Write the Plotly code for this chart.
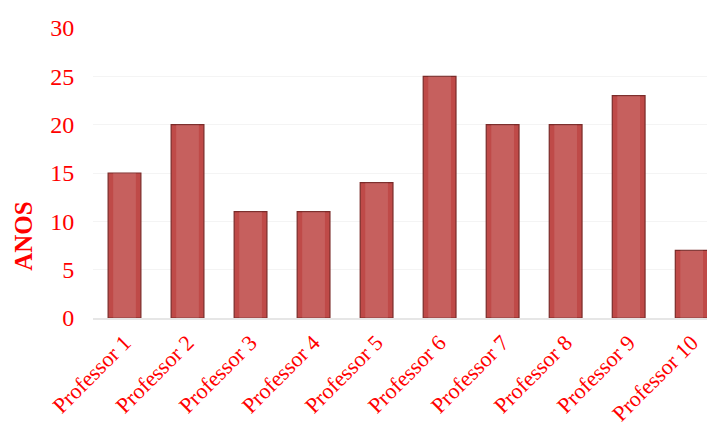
import plotly.graph_objects as go

categories = ["Professor 1", "Professor 2", "Professor 3", "Professor 4", "Professor 5",
              "Professor 6", "Professor 7", "Professor 8", "Professor 9", "Professor 10"]
anos = [15, 20, 11, 11, 14, 25, 20, 20, 23, 7]
y_ticks = [0, 5, 10, 15, 20, 25, 30]

fig = go.Figure()
fig.add_trace(go.Bar(
    x=categories, y=anos,
    marker=dict(color="#BF4A48", line=dict(color="#7A2B29", width=1.2)),
    width=0.52,
))
fig.add_trace(go.Bar(
    x=categories, y=anos,
    marker=dict(color="rgba(255,255,255,0.12)", line=dict(width=0)),
    width=0.36,
    hoverinfo="skip",
))

red = "#FF0000"
serif = "Liberation Serif, Times New Roman, serif"
fig.update_layout(
    width=707, height=420,
    margin=dict(l=85, r=0, t=20, b=110),
    paper_bgcolor="white", plot_bgcolor="white",
    showlegend=False, barmode="overlay",
    font=dict(family=serif, color=red),
    xaxis=dict(
        range=[-0.5, 9.37], tickangle=-45, automargin=False,
        tickfont=dict(size=22, color=red, family=serif),
        showgrid=False, showline=True, linecolor="#E6E6E6", linewidth=2,
        ticks="outside", ticklen=1, tickcolor="rgba(0,0,0,0)", zeroline=False,
    ),
    yaxis=dict(
        range=[0, 30], tickvals=y_ticks, automargin=False,
        tickfont=dict(size=24, color=red, family=serif),
        showgrid=True, gridcolor="#F4F4F4", gridwidth=1,
        zeroline=False, showline=False,
        ticks="outside", ticklen=13, tickcolor="rgba(0,0,0,0)",
    ),
    annotations=[dict(
        text="<b>ANOS</b>", textangle=-90, showarrow=False,
        xref="paper", yref="paper", x=0, y=0.28, xanchor="center", yanchor="middle",
        xshift=-69, font=dict(size=25, color=red, family=serif),
    )],
)

fig.write_html("out.html")
